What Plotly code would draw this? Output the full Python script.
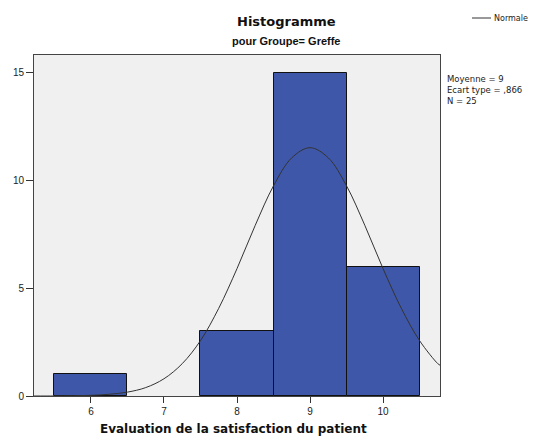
import plotly.graph_objects as go

# histogram counts (bin width 1)
scores = [6, 7, 8, 9, 10]
counts = [1, 0, 3, 15, 6]

# normal curve
curve_x = [5.22, 5.5, 5.75, 6.0, 6.25, 6.5, 6.75, 7.0, 7.25, 7.5, 7.75, 8.0,
           8.25, 8.5, 8.75, 9.0, 9.25, 9.5, 9.75, 10.0, 10.25, 10.5, 10.75, 10.78]
curve_y = [0.0, 0.0, 0.01, 0.03, 0.08, 0.18, 0.39, 0.8, 1.5, 2.57, 4.07, 5.91,
           7.92, 9.75, 11.05, 11.52, 11.05, 9.75, 7.92, 5.91, 4.07, 2.57, 1.5, 1.43]

stats = ['Moyenne = 9', 'Ecart type = ,866', 'N = 25']

FONT = 'Liberation Sans, Arial, sans-serif'
WIDE = 'DejaVu Sans, Verdana, sans-serif'
BAR_COLOR = '#3e57a8'

# page body adds an 8px offset, so work in window pixels minus 8
OFF = 8
W, H = 540, 436
# plot area in window pixels: x 34..440, y 55..396
PL, PR, PT, PB = 34 - OFF, 440 - OFF, 55 - OFF, 396 - OFF


def px_x(x):
    return (x - OFF - PL) / (PR - PL)


def px_y(y):
    return (PB - (y - OFF)) / (PB - PT)


fig = go.Figure()
fig.add_trace(go.Bar(x=scores, y=counts, width=1,
                     marker=dict(color=BAR_COLOR,
                                 line=dict(color='#111111',
                                           width=[1 if c else 0 for c in counts])),
                     showlegend=False, hoverinfo='x+y'))
fig.add_trace(go.Scatter(x=curve_x, y=curve_y, mode='lines', name='Normale',
                         showlegend=False,
                         line=dict(color='#333333', width=1, shape='spline')))

fig.update_layout(
    width=W, height=H,
    margin=dict(l=PL, r=W - PR, t=PT, b=H - PB),
    paper_bgcolor='white',
    plot_bgcolor='#f0f0f0',
    bargap=0,
    showlegend=False,
    font=dict(family=FONT, size=10, color='#222222'),
    xaxis=dict(range=[5.22, 10.78], tickvals=scores, ticks='outside', ticklen=6,
               tickcolor='#333333', showgrid=False, zeroline=False,
               showline=True, mirror=True, linecolor='#444444', linewidth=1,
               tickfont=dict(size=10), automargin=False),
    yaxis=dict(range=[0, 15.82], tickvals=[0, 5, 10, 15], ticks='outside', ticklen=7,
               tickcolor='#333333', showgrid=False, zeroline=False,
               showline=True, mirror=True, linecolor='#444444', linewidth=1,
               tickfont=dict(size=10), automargin=False),
)

# titles
fig.add_annotation(text='<b>Histogramme</b>', xref='paper', yref='paper',
                   x=px_x(286), y=px_y(21), showarrow=False,
                   xanchor='center', yanchor='middle',
                   font=dict(family=WIDE, size=13, color='#111111'))
fig.add_annotation(text='<b>pour Groupe= Greffe</b>', xref='paper', yref='paper',
                   x=px_x(286), y=px_y(41), showarrow=False,
                   xanchor='center', yanchor='middle',
                   font=dict(size=11, color='#111111'))
fig.add_annotation(text='<b>Evaluation de la satisfaction du patient</b>',
                   xref='paper', yref='paper', x=px_x(233), y=px_y(429),
                   showarrow=False, xanchor='center', yanchor='middle',
                   font=dict(family=WIDE, size=12, color='#111111'))

# legend: line sample + label
fig.add_shape(type='line', xref='paper', yref='paper',
              x0=px_x(472), x1=px_x(491), y0=px_y(18), y1=px_y(18),
              line=dict(color='#333333', width=1))
fig.add_annotation(text='Normale', xref='paper', yref='paper',
                   x=px_x(492), y=px_y(18), showarrow=False,
                   xanchor='left', yanchor='middle',
                   font=dict(family=WIDE, size=8, color='#222222'))

# statistics box
fig.add_annotation(text='<br>'.join(stats), xref='paper', yref='paper',
                   x=px_x(445), y=px_y(72), showarrow=False,
                   xanchor='left', yanchor='top', align='left',
                   font=dict(family=WIDE, size=8.5, color='#222222'))

fig.write_html("out.html")
